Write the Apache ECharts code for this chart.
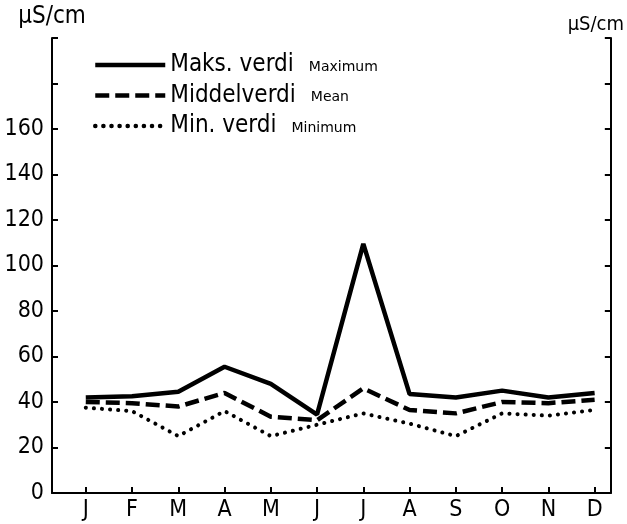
<!DOCTYPE html>
<html>
<head>
<meta charset="utf-8">
<script src="https://cdn.jsdelivr.net/npm/echarts@6/dist/echarts.min.js"></script>
<style>
    html, body { margin: 0; padding: 0; background: #fff; }
    #main { width: 627px; height: 524px; }
</style>
</head>
<body>
<div id="main"></div>
<script>
// months as positions 1..12 on a value axis
var months = ['J', 'F', 'M', 'A', 'M', 'J', 'J', 'A', 'S', 'O', 'N', 'D'];
var monthPos = [1, 2, 3, 4, 5, 6, 7, 8, 9, 10, 11, 12];
var maxVals = [42, 42.5, 44.5, 55.5, 48, 34.5, 109.5, 43.5, 42, 45, 42, 44];
var meanVals = [40, 39.5, 38, 44, 33.5, 32, 46, 36.5, 35, 40, 39.5, 41];
var minVals = [37.5, 36, 25, 36, 25, 30, 35, 30.5, 25, 35, 34, 36.5];
var yTicks = [0, 20, 40, 60, 80, 100, 120, 140, 160];

var toPairs = function (vals) {
    return vals.map(function (v, i) { return [monthPos[i], v]; });
};

var chart = echarts.init(document.getElementById('main'));
var font = 'DejaVu Sans';
var cfont = 'DejaVu Sans Condensed';
var yAxisBase = {
    type: 'value',
    min: 0,
    max: 200,
    interval: 20,
    splitLine: { show: false },
    axisLine: { show: true, lineStyle: { color: '#000', width: 2 } },
    axisTick: { show: true, inside: true, length: 6, lineStyle: { color: '#000', width: 2 } }
};
var option = {
    animation: false,
    backgroundColor: '#fff',
    grid: { left: 52, right: 15, top: 38, bottom: 31 },
    legend: {
        orient: 'vertical',
        left: 88,
        top: 48,
        itemWidth: 70,
        itemHeight: 20,
        itemGap: 6.5,
        itemStyle: { opacity: 0 },
        lineStyle: { width: 4.5 },
        textStyle: {
            fontFamily: cfont,
            rich: {
                a: { fontFamily: cfont, fontSize: 24, color: '#000' },
                b: { fontFamily: font, fontSize: 14, color: '#000', padding: [4, 0, 0, 15] }
            }
        },
        formatter: function (name) {
            var en = { 'Maks. verdi': 'Maximum', 'Middelverdi': 'Mean', 'Min. verdi': 'Minimum' };
            return '{a|' + name + '}{b|' + en[name] + '}';
        },
        data: ['Maks. verdi', 'Middelverdi', 'Min. verdi']
    },
    xAxis: {
        type: 'value',
        min: 0.27,
        max: 12.35,
        splitLine: { show: false },
        axisLine: { show: true, onZero: false, lineStyle: { color: '#000', width: 2 } },
        axisTick: { show: true, inside: true, length: 6, customValues: monthPos, lineStyle: { color: '#000', width: 2 } },
        axisLabel: {
            customValues: monthPos,
            margin: 6,
            fontFamily: cfont,
            fontSize: 23,
            color: '#000',
            formatter: function (v) { return months[Math.round(v) - 1]; }
        }
    },
    yAxis: [
        echarts.util.merge({
            position: 'left',
            name: 'µS/cm',
            nameLocation: 'end',
            nameGap: 9,
            nameTextStyle: { fontFamily: cfont, fontSize: 24, color: '#000' },
            axisLabel: {
                fontFamily: cfont,
                fontSize: 23,
                color: '#000',
                margin: 8,
                formatter: function (v) { return yTicks.indexOf(v) >= 0 ? String(v) : ''; }
            }
        }, yAxisBase),
        echarts.util.merge({
            position: 'right',
            name: 'µS/cm',
            nameLocation: 'end',
            nameGap: 3,
            nameTextStyle: { fontFamily: cfont, fontSize: 20, color: '#000', padding: [0, 30, 0, 0] },
            axisLabel: { show: false }
        }, yAxisBase)
    ],
    series: [
        {
            name: 'Maks. verdi',
            type: 'line',
            symbol: 'none',
            color: '#000',
            lineStyle: { color: '#000', width: 4.5 },
            data: toPairs(maxVals)
        },
        {
            name: 'Middelverdi',
            type: 'line',
            symbol: 'none',
            color: '#000',
            lineStyle: { color: '#000', width: 4.5, type: [14, 6] },
            data: toPairs(meanVals)
        },
        {
            name: 'Min. verdi',
            type: 'line',
            symbol: 'none',
            color: '#000',
            lineStyle: { color: '#000', width: 4, type: [0.1, 8], cap: 'round' },
            data: toPairs(minVals)
        }
    ]
};
chart.setOption(option);
</script>
</body>
</html>
